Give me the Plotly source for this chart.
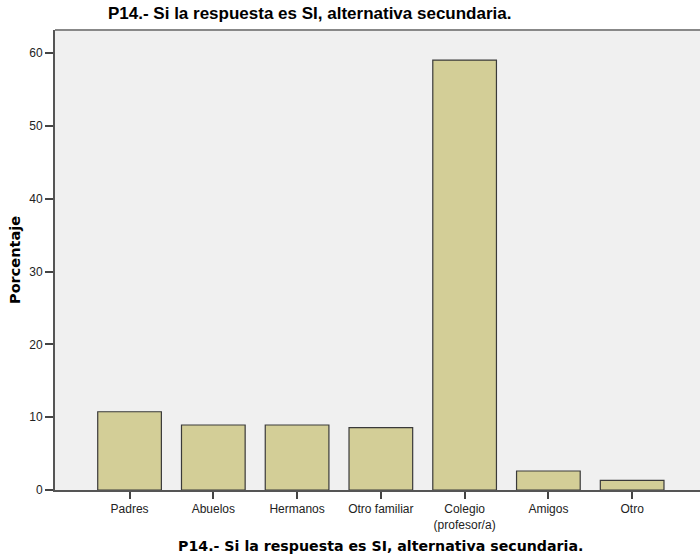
import plotly.graph_objects as go

categories = ["Padres", "Abuelos", "Hermanos", "Otro familiar", "Colegio<br>(profesor/a)", "Amigos", "Otro"]
values = [10.75, 8.93, 8.93, 8.56, 59.07, 2.61, 1.33]
y_ticks = [0, 10, 20, 30, 40, 50, 60]
title_text = "P14.- Si la respuesta es SI, alternativa secundaria."
y_title = "Porcentaje"

font_fam = "Liberation Sans, Arial, sans-serif"
bold_fam = "DejaVu Sans, sans-serif"

W, H = 700, 556
ML, MR, MT, MB = 55, 0, 30, 66

fig = go.Figure()
fig.add_trace(go.Bar(
    x=list(range(len(categories))),
    y=values,
    width=0.76,
    marker=dict(color="#D3CE97", line=dict(color="#3A3A3A", width=1.2)),
    hoverinfo="skip",
))

pw = W - ML - MR
ph = H - MT - MB


def px2paper(px, py):
    return (px - ML) / pw, (H - MB - py) / ph


tx, ty = px2paper(309, 14)
bx, by = px2paper(380, 546)
yx, yy = px2paper(15, 260)

fig.update_layout(
    width=W, height=H,
    margin=dict(l=ML, r=MR, t=MT, b=MB, pad=0),
    paper_bgcolor="white",
    plot_bgcolor="#F0F0F0",
    showlegend=False,
    font=dict(family=font_fam, size=12, color="#222222"),
    xaxis=dict(
        range=[-0.89, 6.81],
        tickmode="array",
        tickvals=list(range(len(categories))),
        ticktext=categories,
        ticks="outside", ticklen=7, tickwidth=1.5, tickcolor="#444444",
        showline=True, linecolor="#555555", linewidth=2,
        showgrid=False, zeroline=False,
        tickfont=dict(family=font_fam, size=12, color="#222222"),
    ),
    yaxis=dict(
        range=[0, 63.2],
        tickmode="array",
        tickvals=y_ticks,
        ticks="outside", ticklen=8, tickwidth=1.5, tickcolor="#444444",
        showline=True, linecolor="#555555", linewidth=2,
        showgrid=False, zeroline=False,
        tickfont=dict(family=font_fam, size=12, color="#222222"),
    ),
    shapes=[dict(type="line", xref="paper", yref="paper", x0=0, x1=1, y0=1, y1=1,
                 line=dict(color="#888888", width=2))],
    annotations=[
        dict(text="<b>" + title_text + "</b>", x=tx, y=ty, xref="paper", yref="paper",
             xanchor="center", yanchor="middle", showarrow=False,
             font=dict(family=font_fam, size=17, color="#000000")),
        dict(text="<b>" + title_text + "</b>", x=bx, y=by, xref="paper", yref="paper",
             xanchor="center", yanchor="middle", showarrow=False,
             font=dict(family=bold_fam, size=14.2, color="#000000")),
        dict(text="<b>" + y_title + "</b>", x=yx, y=yy, xref="paper", yref="paper",
             xanchor="center", yanchor="middle", showarrow=False, textangle=-90,
             font=dict(family=bold_fam, size=14.5, color="#000000")),
    ],
)

fig.write_html("out.html", config={"displayModeBar": False},
               post_script="document.body.style.margin='0';")
